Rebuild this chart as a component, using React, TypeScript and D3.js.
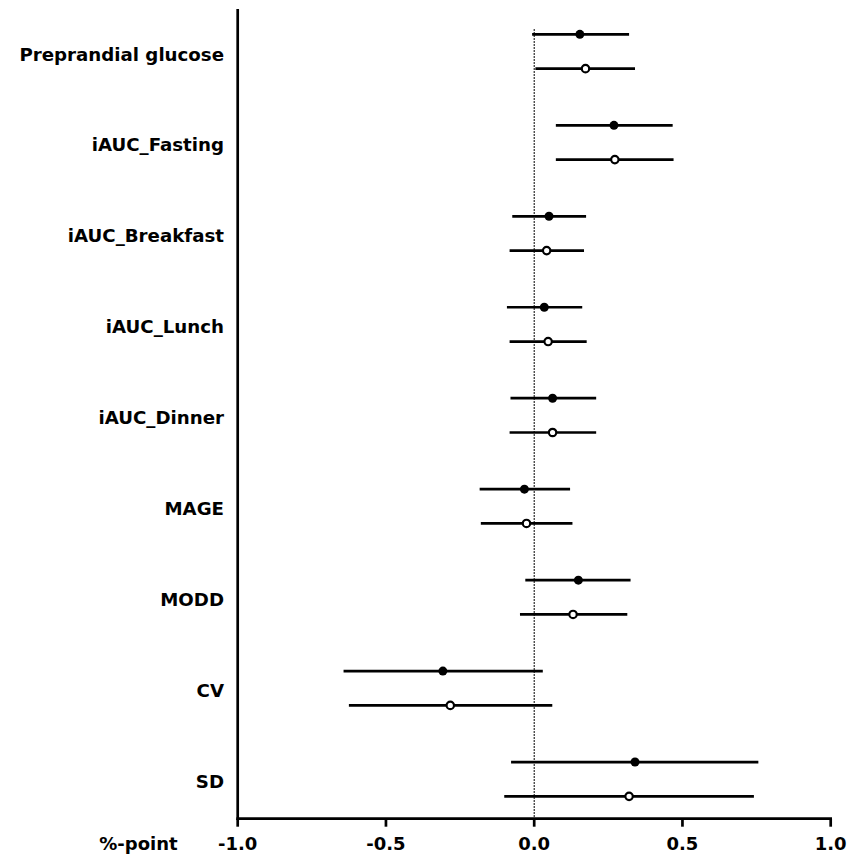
import React from "react";
import * as d3 from "d3";

const categories = [
  "Preprandial glucose",
  "iAUC_Fasting",
  "iAUC_Breakfast",
  "iAUC_Lunch",
  "iAUC_Dinner",
  "MAGE",
  "MODD",
  "CV",
  "SD",
];

// filled markers
const filledEst = [0.154, 0.269, 0.05, 0.034, 0.062, -0.033, 0.149, -0.308, 0.34];
const filledLo = [-0.007, 0.073, -0.074, -0.092, -0.08, -0.184, -0.03, -0.643, -0.078];
const filledHi = [0.32, 0.467, 0.175, 0.162, 0.209, 0.121, 0.325, 0.029, 0.756];

// open markers
const openEst = [0.173, 0.272, 0.042, 0.047, 0.062, -0.026, 0.131, -0.283, 0.32];
const openLo = [0.004, 0.073, -0.083, -0.083, -0.083, -0.18, -0.048, -0.625, -0.101];
const openHi = [0.34, 0.47, 0.168, 0.177, 0.209, 0.129, 0.314, 0.061, 0.741];

const xTicks = [-1.0, -0.5, 0.0, 0.5, 1.0];
const xAxisTitle = "%-point";

const W = 853;
const H = 857;
const FONT = "'DejaVu Sans', Verdana, sans-serif";

export default function App() {
  const x = d3.scaleLinear().domain([-1, 1]).range([237.7, 830.7]);
  const y = d3.scalePoint<string>().domain(categories).range([51.5, 779.2]);
  const off = 17.15;
  const axisY = 818.7;
  const axisTop = 9;
  const f1 = d3.format(".1f");
  const fmt = (v: number) => f1(v).replace("\u2212", "-");

  const series = [
    { est: filledEst, lo: filledLo, hi: filledHi, dy: -off, filled: true },
    { est: openEst, lo: openLo, hi: openHi, dy: off, filled: false },
  ];

  return (
    <svg
      width={W}
      height={H}
      style={{ position: "absolute", left: 0, top: 0, background: "#fff" }}
    >
      {/* zero reference line */}
      <line
        x1={x(0)}
        x2={x(0)}
        y1={29}
        y2={axisY}
        stroke="#000"
        strokeWidth={1}
        strokeDasharray="2,1"
      />
      {/* error bars */}
      {series.map((s, si) =>
        categories.map((c, i) => (
          <g key={`${si}-${i}`}>
            <line
              x1={x(s.lo[i])}
              x2={x(s.hi[i])}
              y1={(y(c) as number) + s.dy}
              y2={(y(c) as number) + s.dy}
              stroke="#000"
              strokeWidth={2.7}
            />
            <circle
              cx={x(s.est[i])}
              cy={(y(c) as number) + s.dy}
              r={s.filled ? 4.5 : 3.7}
              fill={s.filled ? "#000" : "#fff"}
              stroke="#000"
              strokeWidth={s.filled ? 0 : 2.2}
            />
          </g>
        ))
      )}
      {/* y axis */}
      <line x1={x(-1)} x2={x(-1)} y1={axisTop} y2={axisY + 1.3} stroke="#000" strokeWidth={2.7} />
      {/* x axis */}
      <line x1={x(-1) - 1.3} x2={x(1) + 1.3} y1={axisY} y2={axisY} stroke="#000" strokeWidth={2.7} />
      {xTicks.map((t) => (
        <g key={t}>
          <line x1={x(t)} x2={x(t)} y1={axisY} y2={axisY + 8} stroke="#000" strokeWidth={2.7} />
          <text
            x={x(t)}
            y={850}
            textAnchor="middle"
            fontFamily={FONT}
            fontWeight="bold"
            fontSize={18}
            fill="#000"
          >
            {fmt(t)}
          </text>
        </g>
      ))}
      <text
        x={177.7}
        y={850}
        textAnchor="end"
        fontFamily={FONT}
        fontWeight="bold"
        fontSize={18}
        fill="#000"
      >
        {xAxisTitle}
      </text>
      {/* category labels */}
      {categories.map((c) => (
        <text
          key={c}
          x={224}
          y={(y(c) as number) + 9}
          textAnchor="end"
          fontFamily={FONT}
          fontWeight="bold"
          fontSize={18.2}
          fill="#000"
        >
          {c}
        </text>
      ))}
    </svg>
  );
}
